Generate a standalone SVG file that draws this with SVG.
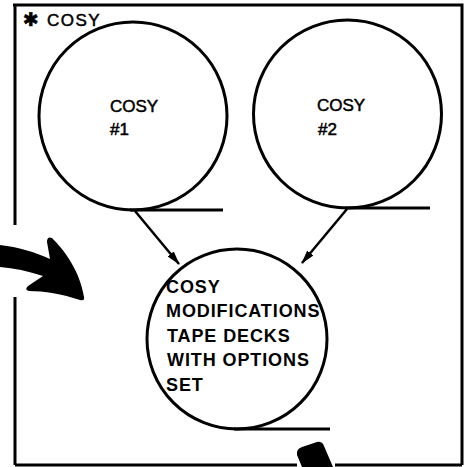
<svg xmlns="http://www.w3.org/2000/svg" width="467" height="467" viewBox="0 0 467 467">
<style>
.frame{stroke:#000;stroke-width:3;fill:none}
.node{fill:#fff;stroke:#000;stroke-width:3}
.tan{stroke:#000;stroke-width:3;fill:none}
.conn{stroke:#000;stroke-width:2.5;fill:none}
.t{font-family:"Liberation Sans",Arial,sans-serif;font-size:17px;fill:#000;stroke:#000;stroke-width:0.5px}
.tb{font-family:"Liberation Sans",Arial,sans-serif;font-size:18px;font-weight:bold;fill:#000;letter-spacing:0.9px}
.blk{fill:#000;stroke:none}
</style>
<defs>
<marker id="ah" viewBox="0 0 14 10" refX="13" refY="5" markerWidth="14" markerHeight="10" markerUnits="userSpaceOnUse" orient="auto">
<path d="M0,1 L14,5 L0,9 Z" fill="#000"/>
</marker>
</defs>
<rect width="467" height="467" fill="#fff"/>
<g id="frame">
<path class="frame" d="M13,5 H462 V465 M15,5 V225 M15,297 V465 M15,465 H297 M335,465 H462"/>
<text class="t" x="23" y="26"><tspan font-family="DejaVu Sans" font-size="19" font-weight="bold">✱</tspan><tspan x="47" letter-spacing="1.5">COSY</tspan></text>
</g>
<g id="bigarrow">
<path class="blk" d="M0,245 C18,247 35,252 50,259 L47,242 Q47,236 52,238 C66,252 80,272 84,297 Q85,301 80,300 C62,294 44,291 29,291 Q24,290 28,286 L43,276 C28,271 14,268 0,267 Z"/>
</g>
<g id="blob">
<path class="blk" d="M297,455 Q296,449 302,447 L317,442 Q322,441 324,446 L333,467 L302,467 Z"/>
</g>
<g id="connectors">
<line class="conn" x1="135" y1="211" x2="179" y2="264" marker-end="url(#ah)"/>
<line class="conn" x1="347" y1="209" x2="302" y2="263" marker-end="url(#ah)"/>
</g>
<g id="cosy1">
<circle class="node" cx="133" cy="116" r="94"/>
<line class="tan" x1="130" y1="210" x2="223" y2="210"/>
<text class="t" x="110" y="112">COSY</text>
<text class="t" x="110" y="135">#1</text>
</g>
<g id="cosy2">
<circle class="node" cx="347.5" cy="114" r="94"/>
<line class="tan" x1="345" y1="208" x2="430" y2="208"/>
<text class="t" x="317" y="111">COSY</text>
<text class="t" x="318" y="135">#2</text>
</g>
<g id="cosymods">
<circle class="node" cx="237" cy="339" r="90"/>
<line class="tan" x1="234" y1="429" x2="330" y2="429"/>
<text class="tb" x="166" y="293">COSY</text>
<text class="tb" x="166" y="317">MODIFICATIONS</text>
<text class="tb" x="167" y="342">TAPE DECKS</text>
<text class="tb" x="167" y="366">WITH OPTIONS</text>
<text class="tb" x="166" y="391">SET</text>
</g>
</svg>
